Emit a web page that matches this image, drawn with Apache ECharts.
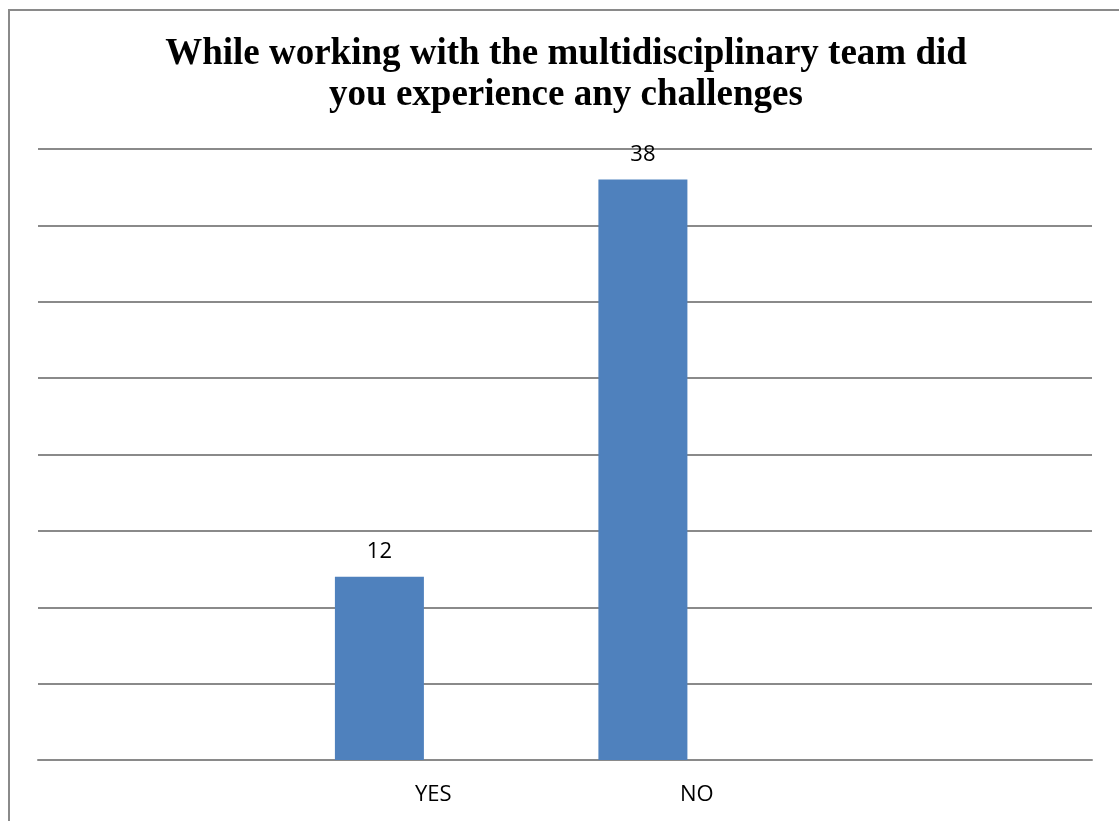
<!DOCTYPE html>
<html>
<head>
<meta charset="utf-8">
<script src="https://cdn.jsdelivr.net/npm/echarts@6/dist/echarts.min.js"></script>
<style>
  html, body { margin: 0; padding: 0; background: #ffffff; }
  #chart { width: 1119px; height: 821px; }
</style>
</head>
<body>
<div id="chart"></div>
<script>
// Survey answers: challenges experienced while working with the multidisciplinary team
const titleText = 'While working with the multidisciplinary team did\nyou experience any challenges';
const categories = ['', 'YES', 'NO', ''];
const responses = [null, 12, 38, null];
const companion = [null, null, null, null];

const gridColor = '#8a8a8a';
const barColor = '#4f81bd';
const labelFont = 'Open Sans';

const chart = echarts.init(document.getElementById('chart'), null, { renderer: 'canvas' });

chart.setOption({
  backgroundColor: '#ffffff',
  animation: false,
  title: {
    text: titleText,
    left: 561,
    top: 29,
    textAlign: 'center',
    textStyle: {
      fontFamily: 'Liberation Serif',
      fontWeight: 'bold',
      fontSize: 37,
      lineHeight: 41,
      color: '#000000'
    }
  },
  graphic: [{
    type: 'rect',
    shape: { x: 9, y: 10, width: 1300, height: 1000 },
    style: { fill: 'none', stroke: '#8a8a8a', lineWidth: 2 },
    silent: true
  }],
  grid: { left: 38, right: 27, top: 149, bottom: 61 },
  xAxis: {
    type: 'category',
    data: categories,
    axisLine: { show: true, lineStyle: { color: gridColor, width: 2 } },
    axisTick: { show: false },
    axisLabel: {
      interval: 0,
      margin: 24,
      fontFamily: labelFont,
      fontSize: 22,
      color: '#000000'
    }
  },
  yAxis: {
    type: 'value',
    min: 0,
    max: 40,
    interval: 5,
    axisLine: { show: false },
    axisTick: { show: false },
    axisLabel: { show: false },
    splitLine: { show: true, lineStyle: { color: gridColor, width: 2 } }
  },
  series: [
    {
      type: 'bar',
      data: responses,
      barWidth: 89,
      barGap: '21%',
      itemStyle: { color: barColor },
      label: {
        show: true,
        position: 'top',
        distance: 14,
        fontFamily: labelFont,
        fontSize: 22,
        color: '#000000'
      }
    },
    {
      type: 'bar',
      data: companion,
      barWidth: 89,
      itemStyle: { color: barColor }
    }
  ]
});
</script>
</body>
</html>
